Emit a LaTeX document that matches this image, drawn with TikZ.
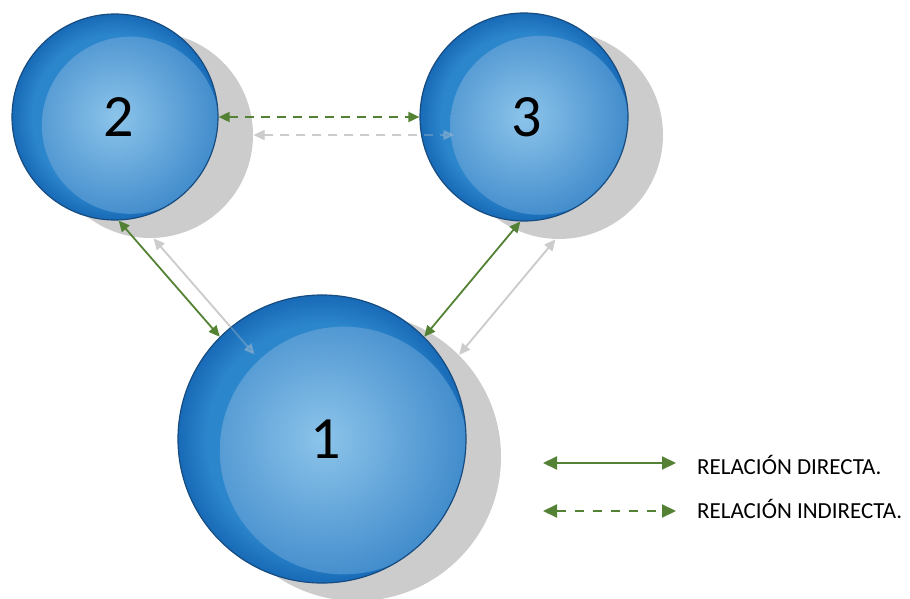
\documentclass[tikz,border=0pt]{standalone}
\usepackage{fontspec}
\setmainfont{Carlito}
\usetikzlibrary{arrows.meta,backgrounds}

\definecolor{ballborder}{RGB}{22,76,128}
\definecolor{balledge}{RGB}{24,106,182}
\definecolor{ballring}{RGB}{44,134,204}
\definecolor{ballmid}{RGB}{66,140,204}
\definecolor{balllight}{RGB}{140,196,234}
\definecolor{relgreen}{RGB}{84,130,53}
\definecolor{shadowgray}{RGB}{204,204,204}

\pgfdeclareradialshading{ballouter}{\pgfpointorigin}{color(0bp)=(ballring); color(20bp)=(ballring); color(25bp)=(balledge); color(50bp)=(balledge)}
\pgfdeclareradialshading{ballinner}{\pgfpointorigin}{color(0bp)=(balllight); color(25bp)=(ballmid); color(50bp)=(ballmid)}

\begin{document}
\begin{tikzpicture}[
    x=1pt, y=-1pt,
    ball/.style={
        circle, draw=ballborder, line width=1.2pt, inner sep=0pt,
        minimum size={2*#1pt}, shading=ballouter,
        font=\fontsize{60}{60}\selectfont,
        path picture={
            \shade[shading=ballinner]
                ([shift={(0.15*#1pt,-0.08*#1pt)}]path picture bounding box.center) circle (0.86*#1pt);
        }
    },
    rel/.style={relgreen, line width=1.8pt,
        {Triangle[length=11pt,width=10pt]}-{Triangle[length=11pt,width=10pt]}},
    relind/.style={rel, dash pattern=on 9pt off 7pt},
    legrel/.style={relgreen, line width=2pt,
        {Triangle[length=14pt,width=13pt]}-{Triangle[length=14pt,width=13pt]}},
    legtext/.style={anchor=base west, inner sep=0pt, font=\fontsize{23}{23}\selectfont}
]

    \useasboundingbox (0,0) rectangle (910,599);

    \node[ball=144] (n1) at (322,439) {\hspace{8pt}1};
    \node[ball=103] (n2) at (115,117) {\hspace{8pt}2};
    \node[ball=104] (n3) at (524,117) {\hspace{6pt}3};

    % shadow of the whole figure
    \begin{pgfonlayer}{background}
        \foreach \n/\r in {n1/144, n2/103, n3/104}
            \fill[shadowgray] ([shift={(35,18)}]\n.center) circle (\r pt);
        \draw[rel, draw=shadowgray] ([shift={(35,18)}]n2.272) -- ([shift={(35,18)}]n1.135);
        \draw[rel, draw=shadowgray] ([shift={(35,18)}]n3.268) -- ([shift={(35,18)}]n1.45);
        \draw[relind, draw=shadowgray] ([shift={(35,18)}]n2.east) -- ([shift={(35,18)}]n3.west);
    \end{pgfonlayer}
    \draw[rel, draw=shadowgray, opacity=0.3] ([shift={(35,18)}]n2.272) -- ([shift={(35,18)}]n1.135);
    \draw[rel, draw=shadowgray, opacity=0.3] ([shift={(35,18)}]n3.268) -- ([shift={(35,18)}]n1.45);
    \draw[relind, draw=shadowgray, opacity=0.3] ([shift={(35,18)}]n2.east) -- ([shift={(35,18)}]n3.west);

    \draw[rel] (n2.272) -- (n1.135);
    \draw[rel] (n3.268) -- (n1.45);
    \draw[relind] (n2.east) -- (n3.west);

    % legend
    \node[legtext] (dirtext) at (697,474) {RELACIÓN DIRECTA.};
    \node[legtext] (indtext) at (697,518) {RELACIÓN INDIRECTA.};
    \coordinate (dirA) at (543,463);
    \coordinate (dirB) at (676,463);
    \coordinate (indA) at (543,511);
    \coordinate (indB) at (676,511);
    \draw[legrel] (dirA) -- (dirB);
    \draw[legrel, dash pattern=on 9pt off 9pt] (indA) -- (indB);

\end{tikzpicture}
\end{document}
